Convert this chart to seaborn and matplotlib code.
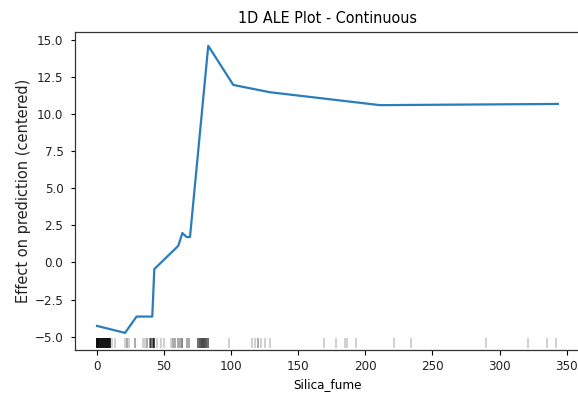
import matplotlib
matplotlib.use("Agg")
import matplotlib.pyplot as plt
import seaborn as sns
import pandas as pd

# ALE curve
ale_x = [0, 20.9, 29.5, 41.2, 42.7, 60.6, 63.6, 66.8, 69.3, 82.9, 101.6, 128.9, 210.9, 343.5]
ale_eff = [-4.28, -4.75, -3.65, -3.65, -0.45, 1.12, 1.98, 1.71, 1.71, 14.6, 11.96, 11.47, 10.6, 10.68]

# rug (feature values and their multiplicities)
rug_vals = [0, 0.5, 1, 1.5, 2, 2.5, 3, 3.5, 4, 4.5, 5, 5.5, 6, 6.5, 7, 7.5, 8, 8.5,
            9, 9.5, 10, 11.5, 13.5, 21, 22.5, 24, 28.5,
            34.5, 36, 37.5, 39.5, 40.5, 41.5, 42.5, 44.5, 47.5, 50, 55, 56.5, 58,
            60, 61.5, 63, 67, 68.5, 75.5, 77, 78.5, 80, 81.5, 82.5, 98, 115.5,
            117.5, 120, 122.5, 125, 129, 169, 178, 185, 186.5, 193, 221, 234,
            290, 321, 335, 342]
rug_counts = [12, 4, 4, 4, 4, 4, 4, 4, 4, 4, 4, 4, 4, 4, 4, 4, 4, 4,
              4, 4, 4, 1, 1, 1, 2, 1, 2,
              1, 1, 2, 3, 4, 4, 6, 1, 1, 1, 1, 2, 2,
              2, 2, 3, 2, 2, 4, 5, 6, 6, 5, 4, 1, 1,
              1, 2, 1, 1, 1, 1, 1, 1, 1, 1, 1, 1,
              1, 1, 1, 1]

x_ticks = [0, 50, 100, 150, 200, 250, 300, 350]
y_ticks = [-5, -2.5, 0, 2.5, 5, 7.5, 10, 12.5, 15]
y_ticklabels = ["\u22125.0", "\u22122.5", "0.0", "2.5", "5.0", "7.5", "10.0", "12.5", "15.0"]

rug_x = [v for v, c in zip(rug_vals, rug_counts) for _ in range(c)]
df = pd.DataFrame({"Silica_fume": ale_x, "eff": ale_eff})

W, H = 578, 398
fig = plt.figure(figsize=(W / 100, H / 100), dpi=100)
ax = fig.add_axes([75 / W, (H - 349.5) / H, (581 - 75) / W, (349.5 - 31.7) / H])

sns.lineplot(data=df, x="Silica_fume", y="eff", ax=ax, color="#2a7dba", linewidth=1.6)

ax.set_xlim(-16.4, 360.7)
ax.set_ylim(-5.87, 15.55)

rug_level = -5.40
ax.plot(rug_x, [rug_level] * len(rug_x), "|", color="k", alpha=0.2,
        markersize=6.5, markeredgewidth=1.3)

ax.set_xticks(x_ticks)
ax.set_yticks(y_ticks)
ax.set_yticklabels(y_ticklabels)

for lab in ax.get_xticklabels() + ax.get_yticklabels():
    lab.set_fontstretch("condensed")
    lab.set_fontsize(9.5)
    lab.set_color("#222222")
ax.tick_params(axis="y", length=2.8, pad=5.5, width=0.8)
ax.tick_params(axis="x", length=3.5, pad=4.0, width=0.8)

for s in ax.spines.values():
    s.set_visible(True)
    s.set_color("#333333")
    s.set_linewidth(0.9)

ax.set_title("1D ALE Plot - Continuous", fontsize=11.5, fontstretch="condensed", pad=6)
ax.set_xlabel("Silica_fume", fontsize=9.5, fontstretch="condensed", labelpad=4)
ax.set_ylabel("Effect on prediction (centered)", fontsize=10.5, color="#222222")
ax.yaxis.set_label_coords(-0.087, 0.5)

fig.savefig("out.png", dpi=100)
